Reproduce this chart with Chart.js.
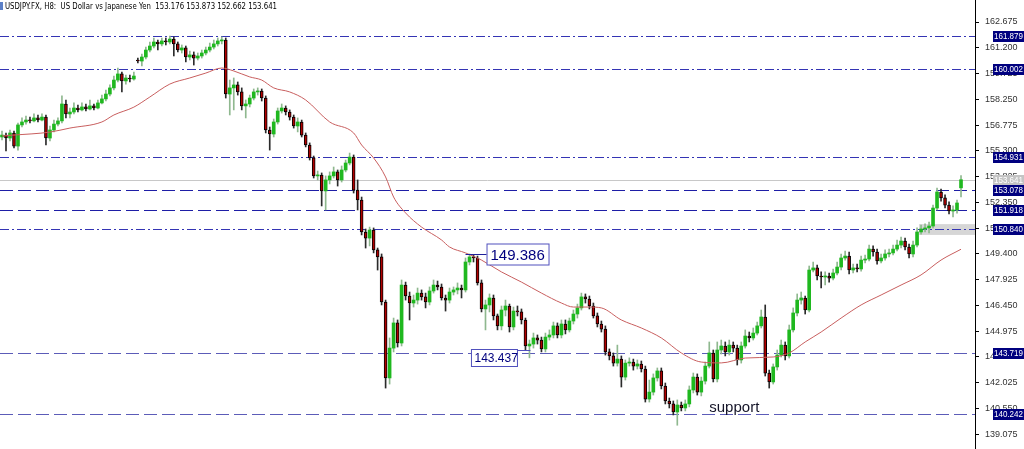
<!DOCTYPE html>
<html>
<head>
<meta charset="utf-8">
<script src="https://cdn.jsdelivr.net/npm/chart.js@4.4.1/dist/chart.umd.min.js"></script>
<style>
  html, body { margin: 0; padding: 0; background: #fff; }
  #wrap { width: 1024px; height: 449px; }
</style>
</head>
<body>
<div id="wrap"><canvas id="usdjpyChart" width="1024" height="449"></canvas></div>
<script>
// USDJPY H8 candles
var opens = [
  156.09, 156.20, 156.03, 156.32, 155.57, 156.78, 156.95, 157.06, 157.01, 157.18,
  157.06, 157.23, 156.03, 156.49, 156.83, 157.01, 157.98, 157.41, 157.52, 157.75,
  157.64, 157.81, 157.69, 157.87, 157.75, 158.04, 158.27, 158.55, 158.90, 159.35,
  159.70, 159.30, 159.47, 159.41, 160.50, 160.44, 160.67, 161.07, 161.30, 161.53,
  161.42, 161.59, 161.53, 161.70, 161.42, 161.07, 161.19, 160.67, 160.79, 160.61,
  160.73, 160.90, 161.07, 161.24, 161.42, 161.59, 161.64, 158.55, 158.90, 159.07,
  158.67, 157.87, 157.98, 158.32, 158.67, 158.72, 158.32, 156.49, 156.26, 156.95,
  157.58, 157.75, 157.52, 157.23, 156.72, 156.95, 156.20, 155.63, 154.89, 153.86,
  153.91, 153.00, 153.63, 153.86, 154.09, 153.63, 154.20, 154.60, 154.94, 153.05,
  152.48, 150.65, 150.30, 150.76, 149.62, 149.22, 146.64, 142.29, 144.00, 145.44,
  144.29, 147.61, 146.98, 146.58, 146.75, 147.15, 146.93, 146.64, 147.27, 147.61,
  147.50, 146.87, 146.75, 147.21, 147.33, 147.44, 147.33, 148.93, 149.22, 149.16,
  147.73, 146.24, 146.47, 146.87, 145.84, 145.27, 146.18, 146.41, 145.21, 146.12,
  146.07, 145.61, 144.12, 144.23, 144.58, 144.46, 143.95, 144.63, 144.75, 145.27,
  144.75, 145.38, 145.04, 145.55, 145.95, 146.30, 146.93, 146.81, 146.41, 145.84,
  145.38, 145.09, 143.78, 143.55, 143.14, 143.37, 142.34, 143.14, 143.20, 142.97,
  143.09, 142.80, 141.08, 141.48, 142.29, 142.69, 141.83, 140.97, 140.80, 140.34,
  140.74, 140.57, 140.80, 141.60, 142.34, 141.48, 142.11, 142.97, 143.72, 142.23,
  143.89, 144.12, 143.78, 144.17, 144.00, 143.32, 144.12, 144.69, 144.58, 144.86,
  145.27, 145.78, 142.57, 142.06, 142.92, 143.60, 144.17, 143.55, 145.04, 146.01,
  146.75, 146.87, 146.18, 148.47, 148.59, 148.13, 148.07, 148.13, 148.01, 148.30,
  148.64, 149.16, 149.27, 148.47, 148.59, 148.53, 149.04, 149.10, 149.67, 149.50,
  148.99, 149.16, 149.39, 149.45, 149.67, 149.90, 150.13, 149.79, 149.39, 149.90,
  150.65, 150.82, 150.88, 150.99, 152.02, 152.94, 152.60, 152.19, 151.85, 151.91,
  153.176
];
var highs = [
  156.43, 156.32, 156.49, 156.43, 156.89, 157.18, 157.29, 157.23, 157.41, 157.35,
  157.41, 157.35, 156.72, 157.06, 157.18, 158.44, 158.21, 157.75, 158.04, 157.92,
  158.04, 157.98, 158.21, 157.98, 158.21, 158.49, 158.78, 159.07, 159.58, 160.04,
  159.81, 159.64, 159.64, 159.81, 160.61, 160.84, 161.24, 161.53, 161.76, 161.64,
  161.76, 161.76, 161.87, 161.82, 161.53, 161.36, 161.30, 161.01, 160.96, 160.90,
  161.07, 161.24, 161.47, 161.64, 161.76, 161.82, 161.76, 159.35, 159.47, 159.24,
  158.90, 158.21, 158.49, 158.84, 158.90, 158.84, 158.44, 156.66, 157.12, 157.75,
  157.98, 157.87, 157.64, 157.35, 157.18, 157.06, 156.32, 155.75, 155.00, 154.14,
  154.03, 153.86, 154.09, 154.37, 154.20, 154.43, 154.77, 155.17, 155.06, 153.63,
  152.65, 150.82, 150.93, 150.88, 149.73, 149.39, 146.75, 144.58, 145.72, 145.61,
  147.90, 147.78, 147.21, 147.04, 147.44, 147.33, 147.15, 147.50, 147.90, 147.84,
  147.67, 147.04, 147.44, 147.50, 147.73, 147.61, 149.16, 149.39, 149.36, 149.27,
  147.90, 146.75, 147.10, 147.04, 145.95, 146.41, 146.75, 146.52, 146.35, 146.41,
  146.24, 145.72, 144.46, 144.86, 144.75, 144.63, 144.86, 145.04, 145.49, 145.44,
  145.61, 145.61, 145.72, 146.18, 146.52, 147.15, 147.10, 146.98, 146.58, 146.01,
  145.55, 145.27, 143.95, 143.72, 144.17, 143.55, 143.32, 143.44, 143.37, 143.32,
  143.26, 142.97, 142.17, 142.52, 142.86, 142.86, 142.00, 141.14, 140.97, 141.03,
  140.91, 141.03, 141.83, 142.57, 142.52, 142.34, 143.20, 144.35, 143.89, 144.35,
  144.46, 144.35, 144.46, 144.35, 144.17, 144.35, 145.04, 144.92, 145.15, 145.49,
  146.18, 146.47, 142.74, 143.09, 143.89, 144.46, 144.35, 145.32, 146.30, 147.10,
  147.21, 146.98, 148.70, 148.93, 148.76, 148.36, 148.36, 148.30, 148.53, 148.93,
  149.39, 149.56, 149.50, 148.81, 148.81, 149.27, 149.33, 149.90, 149.85, 149.67,
  149.39, 149.62, 149.67, 149.90, 150.19, 150.36, 150.30, 149.96, 150.13, 150.88,
  151.05, 151.11, 151.22, 152.19, 153.17, 153.11, 152.77, 152.37, 152.14, 152.48,
  153.873
];
var lows = [
  155.92, 155.29, 155.86, 155.46, 155.34, 156.66, 156.83, 156.89, 156.95, 156.95,
  157.01, 155.63, 155.86, 156.38, 156.72, 156.89, 157.18, 157.18, 157.41, 157.52,
  157.58, 157.58, 157.64, 157.64, 157.69, 157.98, 158.15, 158.44, 158.78, 159.24,
  158.67, 159.12, 159.24, 159.35, 160.33, 160.16, 160.56, 160.96, 161.19, 161.07,
  161.30, 161.36, 161.42, 160.73, 160.96, 160.90, 160.39, 160.50, 160.21, 160.50,
  160.61, 160.79, 160.96, 161.13, 161.30, 161.42, 158.32, 157.35, 157.64, 158.49,
  157.64, 157.18, 157.81, 158.21, 158.49, 158.15, 156.32, 155.34, 156.09, 156.83,
  157.46, 157.35, 157.06, 156.60, 156.38, 156.09, 155.52, 154.77, 153.74, 153.63,
  152.14, 151.91, 153.40, 153.74, 153.28, 153.51, 154.09, 154.49, 152.88, 151.91,
  150.48, 149.73, 149.85, 149.45, 148.47, 146.47, 141.71, 141.94, 143.78, 144.06,
  144.12, 146.75, 145.61, 146.35, 146.52, 146.75, 146.30, 146.47, 147.15, 147.33,
  146.75, 146.12, 146.58, 147.04, 147.10, 146.87, 147.21, 148.76, 148.93, 147.61,
  146.07, 145.04, 146.07, 145.61, 145.04, 145.04, 145.84, 144.92, 145.04, 145.84,
  145.38, 143.89, 143.44, 144.00, 144.23, 143.78, 143.78, 144.46, 144.58, 144.58,
  144.58, 144.81, 144.92, 145.38, 145.72, 146.18, 146.58, 146.24, 145.72, 145.21,
  144.92, 143.60, 143.32, 142.97, 142.97, 141.77, 142.17, 142.97, 142.74, 142.80,
  142.63, 140.91, 140.91, 141.31, 142.11, 141.66, 140.80, 140.57, 140.17, 139.58,
  140.40, 140.40, 140.63, 141.43, 141.31, 141.26, 141.94, 142.86, 142.06, 142.06,
  143.66, 143.55, 143.60, 143.78, 143.03, 143.14, 144.00, 144.35, 144.46, 144.75,
  145.15, 142.40, 141.71, 141.94, 142.74, 143.49, 143.32, 143.43, 144.92, 145.84,
  146.52, 145.95, 146.07, 148.36, 147.90, 147.44, 147.61, 147.78, 147.90, 148.19,
  148.47, 149.04, 148.24, 148.30, 148.36, 148.41, 148.87, 148.99, 149.27, 148.81,
  148.87, 149.04, 149.22, 149.33, 149.56, 149.73, 149.62, 149.16, 149.22, 149.79,
  150.53, 150.65, 150.59, 150.88, 151.91, 152.42, 152.02, 151.68, 151.51, 151.73,
  152.662
];
var closes = [
  156.20, 156.03, 156.32, 155.57, 156.78, 156.95, 157.06, 157.01, 157.18, 157.06,
  157.23, 156.03, 156.49, 156.83, 157.01, 157.98, 157.41, 157.52, 157.75, 157.64,
  157.81, 157.69, 157.87, 157.75, 158.04, 158.27, 158.55, 158.90, 159.35, 159.70,
  159.30, 159.47, 159.41, 159.58, 160.44, 160.67, 161.07, 161.30, 161.53, 161.42,
  161.59, 161.53, 161.70, 161.42, 161.07, 161.19, 160.67, 160.79, 160.61, 160.73,
  160.90, 161.07, 161.24, 161.42, 161.59, 161.64, 158.55, 158.90, 159.07, 158.67,
  157.87, 157.98, 158.32, 158.67, 158.72, 158.32, 156.49, 156.26, 156.95, 157.58,
  157.75, 157.52, 157.23, 156.72, 156.95, 156.20, 155.63, 154.89, 153.86, 153.91,
  153.00, 153.63, 153.86, 154.09, 153.63, 154.20, 154.60, 154.94, 153.05, 152.48,
  150.65, 150.30, 150.76, 149.62, 149.22, 146.64, 142.29, 144.00, 145.44, 144.29,
  147.61, 146.98, 146.58, 146.75, 147.15, 146.93, 146.64, 147.27, 147.61, 147.50,
  146.87, 146.75, 147.21, 147.33, 147.44, 147.33, 148.93, 149.22, 149.16, 147.73,
  146.24, 146.47, 146.87, 145.84, 145.27, 146.18, 146.41, 145.21, 146.12, 146.07,
  145.61, 144.12, 144.23, 144.58, 144.46, 143.95, 144.63, 144.75, 145.27, 144.75,
  145.38, 145.04, 145.55, 145.95, 146.30, 146.93, 146.81, 146.41, 145.84, 145.38,
  145.09, 143.78, 143.55, 143.14, 143.37, 142.34, 143.14, 143.20, 142.97, 143.09,
  142.80, 141.08, 141.48, 142.29, 142.69, 141.83, 140.97, 140.80, 140.34, 140.74,
  140.57, 140.80, 141.60, 142.34, 141.48, 142.11, 142.97, 143.72, 142.23, 143.89,
  144.12, 143.78, 144.17, 144.00, 143.32, 144.12, 144.69, 144.58, 144.86, 145.27,
  145.78, 142.57, 142.06, 142.92, 143.60, 144.17, 143.55, 145.04, 146.01, 146.75,
  146.87, 146.18, 148.47, 148.59, 148.13, 148.07, 148.13, 148.01, 148.30, 148.64,
  149.16, 149.27, 148.47, 148.59, 148.53, 149.04, 149.10, 149.67, 149.50, 148.99,
  149.16, 149.39, 149.45, 149.67, 149.90, 150.13, 149.79, 149.39, 149.90, 150.65,
  150.82, 150.88, 150.99, 152.02, 152.94, 152.60, 152.19, 151.85, 151.91, 152.31,
  153.641
];

// moving average, read at a few candles
var maIndex = [0, 3, 12, 17, 25, 28, 33, 37, 42, 47, 51, 55, 58, 62, 65, 68, 72, 76, 82, 88,
  90, 93, 96, 98, 101, 105, 110, 112, 116, 120, 125, 130, 135, 140, 143, 147, 150, 155, 160, 165,
  170, 175, 180, 186, 193, 197, 201, 205, 210, 215, 220, 225, 230, 235, 240];
var maValues = [156.15, 156.20, 156.37, 156.60, 156.95, 157.35, 157.80, 158.38, 159.12, 159.47,
  159.75, 160.04, 159.87, 159.53, 159.35, 158.90, 158.67, 158.21, 156.95, 156.32,
  155.63, 154.89, 153.80, 152.65, 151.74, 150.93, 150.19, 149.79, 149.45, 149.04,
  148.36, 147.78, 147.15, 146.58, 146.35, 146.35, 146.30, 145.61, 145.15, 144.58,
  143.72, 143.20, 143.15, 143.43, 143.49, 143.72, 144.35, 144.92, 145.72, 146.47,
  147.04, 147.61, 148.19, 149.04, 149.66];

var tickValues = [162.675, 161.200, 159.725, 158.250, 156.775, 155.300, 153.825, 152.350,
  150.875, 149.400, 147.925, 146.450, 144.975, 143.500, 142.025, 140.550, 139.075];

var levels = [161.879, 160.002, 154.931, 153.078, 151.918, 150.840, 143.719, 140.242];
var levelKinds = ["dashdot", "dashdot", "dashdot", "dash", "dash", "dashdot", "dash", "dash"];
var lastPrice = 153.641;
var zoneFrom = 230;
var zoneHigh = 151.10;
var zoneLow = 150.48;

var highMark = 149.386, highMarkAt = 117;
var lowMark = 143.437, lowMarkAt = 132;
var supportAt = 177, supportPrice = 140.35;

var titleText = "USDJPY.FX, H8:  US Dollar vs Japanese Yen  153.176 153.873 152.662 153.641";

var slots = [];
for (var i = 0; i < closes.length + 3; i++) slots.push(i);

var bodies = closes.map(function (c, i) { return [opens[i], c]; });
var wicks = closes.map(function (c, i) { return [lows[i], highs[i]]; });
var maPoints = maIndex.map(function (idx, k) { return { x: idx, y: maValues[k] }; });

function isUp(i) { return closes[i] >= opens[i]; }

var overlay = {
  id: "overlay",
  beforeDatasetsDraw: function (chart) {
    var ctx = chart.ctx, a = chart.chartArea, xs = chart.scales.x, ys = chart.scales.y;
    ctx.save();
    // grey zone on the right
    var zx = xs.getPixelForValue(zoneFrom) - 2;
    var z1 = ys.getPixelForValue(zoneHigh), z2 = ys.getPixelForValue(zoneLow);
    ctx.fillStyle = "#d6d6d6";
    ctx.fillRect(zx, z1, a.right - zx, z2 - z1);

    // bid line
    var by = Math.round(ys.getPixelForValue(lastPrice)) + 0.5;
    ctx.strokeStyle = "#c8c8c8";
    ctx.lineWidth = 1;
    ctx.beginPath(); ctx.moveTo(a.left, by); ctx.lineTo(a.right, by); ctx.stroke();

    levels.forEach(function (lv, k) {
      var py = Math.round(ys.getPixelForValue(lv)) + 0.5;
      if (levelKinds[k] === "dash") {
        ctx.strokeStyle = lv < 145 ? "#5c5cb8" : "#1e1ea6";
        ctx.setLineDash([13, 5]);
      } else {
        ctx.strokeStyle = "#3434b4";
        ctx.setLineDash([9, 3, 2, 3]);
      }
      ctx.beginPath(); ctx.moveTo(a.left, py); ctx.lineTo(a.right, py); ctx.stroke();
    });
    ctx.restore();
  },
  afterDraw: function (chart) {
    var ctx = chart.ctx, a = chart.chartArea, xs = chart.scales.x, ys = chart.scales.y;
    ctx.save();
    ctx.font = "9px 'Liberation Sans'";
    ctx.textBaseline = "middle";
    ctx.textAlign = "left";

    function axisBox(price, fill) {
      var py = Math.round(ys.getPixelForValue(price));
      ctx.fillStyle = fill;
      ctx.fillRect(a.right + 18, py - 5, 31, 11);
      ctx.fillStyle = "#ffffff";
      ctx.fillText(price.toFixed(3), a.right + 19, py + 0.5, 29);
    }
    axisBox(lastPrice, "#c4c4c4");
    levels.forEach(function (lv) { axisBox(lv, "#00007f"); });

    // price labels on the chart
    var hx = xs.getPixelForValue(highMarkAt);
    var hy = Math.round(ys.getPixelForValue(highMark)) + 0.5;
    ctx.strokeStyle = "#1f1f9a";
    ctx.lineWidth = 1;
    ctx.beginPath(); ctx.moveTo(hx - 4, hy); ctx.lineTo(hx + 17, hy); ctx.stroke();
    ctx.fillStyle = "#ffffff";
    ctx.fillRect(hx + 17.5, hy - 10.5, 62, 21);
    ctx.strokeStyle = "#5050bd";
    ctx.strokeRect(hx + 17.5, hy - 10.5, 62, 21);
    ctx.fillStyle = "#00007f";
    ctx.font = "15px 'Liberation Sans'";
    ctx.fillText(highMark.toFixed(3), hx + 21, hy + 1);

    var lx = xs.getPixelForValue(lowMarkAt);
    var ly = Math.round(ys.getPixelForValue(lowMark)) + 0.5;
    ctx.strokeStyle = "#5050bd";
    ctx.beginPath(); ctx.moveTo(lx - 12, ly - 8); ctx.lineTo(lx + 1, ly - 8); ctx.stroke();
    ctx.fillStyle = "#ffffff";
    ctx.fillRect(lx - 58, ly - 9, 46, 17);
    ctx.strokeRect(lx - 58, ly - 9, 46, 17);
    ctx.fillStyle = "#00007f";
    ctx.font = "12px 'Liberation Sans'";
    ctx.fillText(lowMark.toFixed(3), lx - 55, ly);

    // support text
    ctx.fillStyle = "#141428";
    ctx.font = "15px 'Liberation Sans'";
    ctx.textBaseline = "alphabetic";
    ctx.fillText("support", xs.getPixelForValue(supportAt), ys.getPixelForValue(supportPrice));

    // title in the corner
    ctx.fillStyle = "#5b7fc7";
    ctx.fillRect(0, 2, 3, 8);
    ctx.fillStyle = "#000000";
    ctx.font = "9px 'DejaVu Sans'";
    ctx.fillText(titleText, 5, 9, 272);
    ctx.restore();
  }
};

var ctx = document.getElementById("usdjpyChart").getContext("2d");
var priceChart = new Chart(ctx, {
  type: "bar",
  data: {
    labels: slots,
    datasets: [
      {
        label: "wicks",
        data: wicks,
        backgroundColor: function (c) { return isUp(c.dataIndex) ? "#8fb88f" : "#2b2b2b"; },
        barThickness: 1,
        grouped: false,
        order: 3
      },
      {
        label: "bodies",
        data: bodies,
        backgroundColor: function (c) { return isUp(c.dataIndex) ? "#1fb81f" : "#b00000"; },
        borderColor: function (c) { return isUp(c.dataIndex) ? "#1a9a1a" : "#000000"; },
        borderWidth: function (c) { return isUp(c.dataIndex) ? 0 : 1; },
        borderSkipped: false,
        barThickness: 3,
        minBarLength: 1,
        grouped: false,
        order: 2
      },
      {
        type: "line",
        label: "MA",
        data: maPoints,
        borderColor: "#c85e5e",
        borderWidth: 1,
        pointRadius: 0,
        cubicInterpolationMode: "monotone",
        spanGaps: true,
        order: 1
      }
    ]
  },
  options: {
    responsive: false,
    animation: false,
    events: [],
    layout: { padding: 0 },
    plugins: { legend: { display: false }, tooltip: { enabled: false } },
    scales: {
      x: { type: "category", offset: true, display: false },
      y: {
        position: "right",
        min: 138.22,
        max: 163.935,
        afterBuildTicks: function (axis) {
          axis.ticks = tickValues.map(function (v) { return { value: v }; });
        },
        afterFit: function (axis) {
          axis.width = 49;
          axis.paddingTop = 0;
          axis.paddingBottom = 0;
        },
        grid: { drawOnChartArea: false, drawTicks: true, tickLength: 4, color: "#000000" },
        border: { display: true, color: "#000000" },
        ticks: {
          color: "#333333",
          autoSkip: false,
          padding: 6,
          font: { family: "Liberation Sans", size: 9 },
          callback: function (v) { return Number(v).toFixed(3); }
        }
      }
    }
  },
  plugins: [overlay]
});
</script>
</body>
</html>
